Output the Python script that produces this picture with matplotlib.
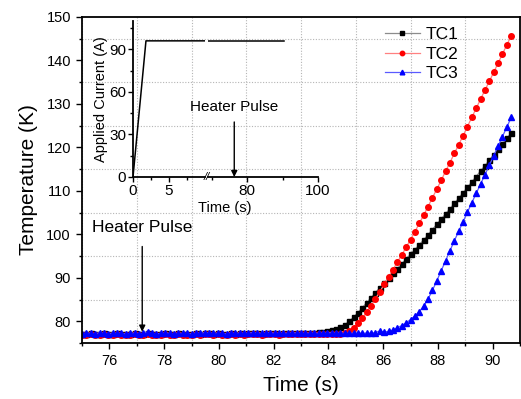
import numpy as np
import matplotlib
matplotlib.use("Agg")
import matplotlib.pyplot as plt
from matplotlib.ticker import MultipleLocator, FixedLocator

plt.rcParams['font.family'] = ['Liberation Sans', 'DejaVu Sans']

# sample times (s)
time_s = [
    75.00, 75.16, 75.32, 75.48, 75.64, 75.80, 75.96, 76.12, 76.28, 76.44,
    76.60, 76.76, 76.92, 77.08, 77.24, 77.40, 77.56, 77.72, 77.88, 78.04,
    78.20, 78.36, 78.52, 78.68, 78.84, 79.00, 79.16, 79.32, 79.48, 79.64,
    79.80, 79.96, 80.12, 80.28, 80.44, 80.60, 80.76, 80.92, 81.08, 81.24,
    81.40, 81.56, 81.72, 81.88, 82.04, 82.20, 82.36, 82.52, 82.68, 82.84,
    83.00, 83.16, 83.32, 83.48, 83.64, 83.80, 83.96, 84.12, 84.28, 84.44,
    84.60, 84.76, 84.92, 85.08, 85.24, 85.40, 85.56, 85.72, 85.88, 86.04,
    86.20, 86.36, 86.52, 86.68, 86.84, 87.00, 87.16, 87.32, 87.48, 87.64,
    87.80, 87.96, 88.12, 88.28, 88.44, 88.60, 88.76, 88.92, 89.08, 89.24,
    89.40, 89.56, 89.72, 89.88, 90.04, 90.20, 90.36, 90.52, 90.68,
]

tc1 = [
    77.0, 77.1, 77.2, 77.0, 77.1, 77.3, 77.1, 77.0, 77.2, 77.1,
    77.0, 77.1, 77.2, 77.1, 77.0, 77.3, 77.1, 77.0, 77.1, 77.2,
    77.1, 77.0, 77.2, 77.1, 77.1, 77.0, 77.2, 77.1, 77.3, 77.2,
    77.1, 77.2, 77.1, 77.0, 77.2, 77.1, 77.2, 77.1, 77.2, 77.3,
    77.2, 77.1, 77.2, 77.3, 77.2, 77.1, 77.3, 77.2, 77.3, 77.2,
    77.3, 77.4, 77.3, 77.4, 77.5, 77.6, 77.7, 77.9, 78.2, 78.6,
    79.2, 80.0, 80.9, 82.0, 83.1, 84.3, 85.4, 86.6, 87.7, 88.8,
    89.9, 91.0, 92.1, 93.2, 94.3, 95.4, 96.5, 97.6, 98.7, 99.9,
    101.1, 102.3, 103.5, 104.7, 105.9, 107.1, 108.3, 109.6, 110.8, 112.1,
    113.3, 114.6, 115.8, 117.1, 118.3, 119.6, 120.8, 122.1, 123.3,
]

tc2 = [
    76.8, 76.9, 77.0, 76.8, 76.9, 77.1, 76.9, 76.8, 77.0, 76.9,
    76.8, 76.9, 77.0, 76.9, 76.8, 77.0, 76.9, 76.8, 76.9, 77.0,
    76.9, 76.8, 77.0, 76.9, 76.9, 76.8, 77.0, 76.9, 77.1, 77.0,
    76.9, 77.0, 76.9, 76.8, 77.0, 76.9, 77.0, 76.9, 77.0, 77.1,
    77.0, 76.9, 77.0, 77.1, 77.0, 76.9, 77.1, 77.0, 77.1, 77.0,
    77.0, 77.1, 77.0, 77.1, 77.0, 77.1, 77.0, 77.1, 77.0, 77.1,
    77.3, 77.8, 78.5, 79.5, 80.7, 82.1, 83.6, 85.2, 86.8, 88.5,
    90.2, 91.9, 93.6, 95.3, 97.0, 98.8, 100.6, 102.5, 104.4, 106.4,
    108.4, 110.4, 112.4, 114.5, 116.5, 118.6, 120.6, 122.7, 124.8, 126.9,
    129.0, 131.1, 133.2, 135.2, 137.3, 139.4, 141.5, 143.6, 145.7,
]

tc3 = [
    77.1, 77.3, 77.2, 77.1, 77.4, 77.2, 77.1, 77.3, 77.2, 77.2,
    77.1, 77.2, 77.3, 77.1, 77.2, 77.6, 77.2, 77.1, 77.2, 77.3,
    77.2, 77.1, 77.3, 77.2, 77.2, 77.1, 77.3, 77.2, 77.4, 77.3,
    77.2, 77.3, 77.2, 77.1, 77.3, 77.2, 77.3, 77.2, 77.3, 77.4,
    77.3, 77.2, 77.3, 77.4, 77.2, 77.2, 77.3, 77.2, 77.4, 77.3,
    77.2, 77.3, 77.2, 77.3, 77.2, 77.3, 77.2, 77.4, 77.2, 77.3,
    77.2, 77.3, 77.2, 77.3, 77.2, 77.3, 77.2, 77.4, 77.8, 77.5,
    77.7, 78.0, 78.5, 79.0, 79.6, 80.4, 81.2, 82.2, 83.5, 85.1,
    87.1, 89.3, 91.6, 93.9, 96.2, 98.5, 100.7, 102.9, 105.1, 107.3,
    109.4, 111.6, 113.7, 115.9, 118.1, 120.3, 122.5, 124.7, 126.9,
]

# applied current profile for the inset
current_t = [0, 1.8, 10, 69, 90.4]
current_A = [0, 96, 96, 96, 96]

pulse_main = 77.2
pulse_inset = 76.4

fig = plt.figure(figsize=(5.21, 3.99), dpi=100)
ax = fig.add_axes([82/521, 56/399, 438/521, 326/399])

ax.plot(time_s, tc1, color='#8c8c8c', lw=0.9, marker='s', ms=3.6,
        mfc='black', mec='black', label='TC1')
ax.plot(time_s, tc2, color='#ff8080', lw=0.9, marker='o', ms=4.0,
        mfc='red', mec='red', label='TC2')
ax.plot(time_s, tc3, color='#5a5aff', lw=0.9, marker='^', ms=4.2,
        mfc='blue', mec='blue', label='TC3')

ax.set_xlim(75, 91)
ax.set_ylim(75, 150)
ax.xaxis.set_major_locator(MultipleLocator(2))
ax.xaxis.set_minor_locator(MultipleLocator(1))
ax.yaxis.set_major_locator(MultipleLocator(10))
ax.yaxis.set_minor_locator(MultipleLocator(5))
ax.set_xticks([76, 78, 80, 82, 84, 86, 88, 90])
ax.set_yticks([80, 90, 100, 110, 120, 130, 140, 150])
ax.grid(which='minor', ls=(0, (1, 1.5)), color='#b5b5b5', lw=0.8)
ax.set_axisbelow(True)
ax.tick_params(which='both', direction='out', labelsize=10.5, width=1.0)
ax.tick_params(which='major', length=4.5)
ax.tick_params(which='minor', length=2.5)
for s in ax.spines.values():
    s.set_linewidth(1.3)

ax.set_xlabel('Time (s)', fontsize=15, labelpad=6)
ax.set_ylabel('Temperature (K)', fontsize=15, labelpad=6)

ax.annotate('', xy=(pulse_main, 77.6), xytext=(pulse_main, 97.2),
            arrowprops=dict(arrowstyle='-|>', color='black', lw=1.0,
                            mutation_scale=9, shrinkA=0, shrinkB=0))
ax.text(pulse_main, 101.6, 'Heater Pulse', fontsize=12.5,
        ha='center', va='center')

leg = ax.legend(loc='upper left', bbox_to_anchor=(0.692, 0.970), frameon=False,
                fontsize=12.5, handlelength=2.0, handletextpad=0.35,
                labelspacing=0.26, borderpad=0, borderaxespad=0, markerscale=0.8)

# inset with broken time axis
ins_a = fig.add_axes([133/521, 222/399, 72/521, 156/399])
ins_b = fig.add_axes([208/521, 222/399, 110/521, 156/399])
for a in (ins_a, ins_b):
    a.patch.set_alpha(0)
    a.plot(current_t, current_A, color='black', lw=1.1)
    a.set_ylim(0, 110)
    a.spines['top'].set_visible(False)
    a.spines['right'].set_visible(False)
    a.spines['bottom'].set_linewidth(1.3)
    a.tick_params(which='both', direction='out', labelsize=11, width=1.0,
                  pad=1.5)
    a.tick_params(which='major', length=3.5)
    a.tick_params(which='minor', length=2)

ins_a.set_xlim(0, 10)
ins_a.xaxis.set_major_locator(FixedLocator([0, 5]))
ins_a.xaxis.set_minor_locator(FixedLocator([2.5, 7.5]))
ins_a.yaxis.set_major_locator(FixedLocator([0, 30, 60, 90]))
ins_a.yaxis.set_minor_locator(FixedLocator([15, 45, 75, 105]))
ins_a.spines['left'].set_linewidth(1.3)
ins_a.set_ylabel('Applied Current (A)', fontsize=10.5, labelpad=1)

ins_b.set_xlim(69, 100)
ins_b.xaxis.set_major_locator(FixedLocator([80, 100]))
ins_b.xaxis.set_minor_locator(FixedLocator([70, 90]))
ins_b.spines['left'].set_visible(False)
ins_b.set_yticks([])

ins_b.annotate('', xy=(pulse_inset, 0), xytext=(pulse_inset, 38.8),
               arrowprops=dict(arrowstyle='-|>', color='black', lw=1.0,
                               mutation_scale=9, shrinkA=0, shrinkB=0))
ins_b.text(pulse_inset, 49.4, 'Heater Pulse', fontsize=11,
           ha='center', va='center')

fig.text(207/521, 1 - 177/399, '//', fontsize=8, ha='center', va='center',
         style='italic')
fig.text(225/521, 1 - 208/399, 'Time (s)', fontsize=10.5,
         ha='center', va='center')

fig.savefig('out.png', dpi=100)
